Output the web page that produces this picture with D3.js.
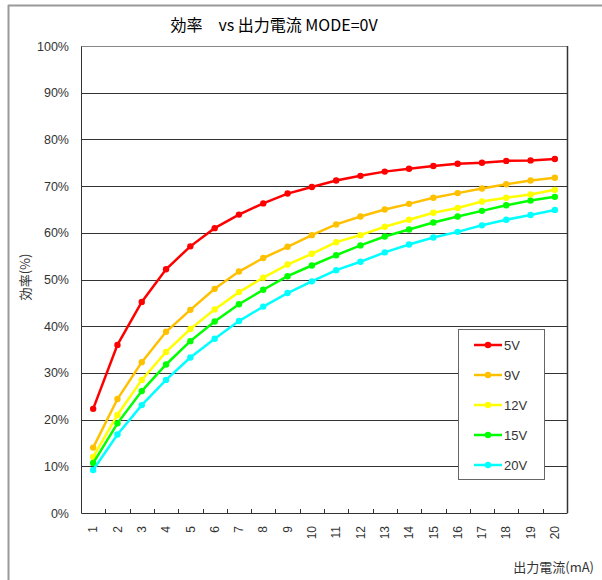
<!DOCTYPE html>
<html><head><meta charset="utf-8">
<script src="https://cdn.jsdelivr.net/npm/d3@7"></script>
<style>body{margin:0;background:#fff}svg{display:block}</style>
</head><body>
<svg id="c" width="602" height="580"></svg>
<script>
const categories = [1,2,3,4,5,6,7,8,9,10,11,12,13,14,15,16,17,18,19,20];
const yTicks = [0,10,20,30,40,50,60,70,80,90,100];
const seriesNames = ["5V","9V","12V","15V","20V"];
const seriesColors = ["#ff0000","#ffc000","#ffff00","#00ff00","#00ffff"];
const v5  = [22.3,36.0,45.2,52.2,57.1,61.0,63.9,66.3,68.4,69.8,71.2,72.2,73.1,73.7,74.3,74.8,75.0,75.4,75.5,75.8];
const v9  = [14.0,24.4,32.3,38.8,43.5,48.0,51.7,54.6,57.0,59.5,61.8,63.5,65.0,66.2,67.5,68.5,69.5,70.4,71.2,71.8];
const v12 = [12.0,21.0,28.5,34.5,39.4,43.6,47.3,50.4,53.2,55.5,58.0,59.5,61.3,62.8,64.3,65.3,66.7,67.5,68.2,69.2];
const v15 = [10.7,19.2,26.1,31.8,36.8,41.0,44.7,47.8,50.7,53.0,55.2,57.3,59.2,60.7,62.2,63.5,64.7,65.9,66.9,67.7];
const v20 = [9.2,16.8,23.1,28.5,33.3,37.3,41.1,44.2,47.1,49.6,52.0,53.8,55.8,57.5,59.0,60.2,61.6,62.8,63.8,64.9];
const seriesValues = [v5,v9,v12,v15,v20];

const svg = d3.select("#c");
const L=81, R=567, T=46, B=513;
const x = d3.scaleBand().domain(categories).range([L,R]);
const y = d3.scaleLinear().domain([0,100]).range([B,T]);
const font = "'Liberation Sans', Arial, sans-serif";
const jfont = "'Noto Sans CJK JP', sans-serif";

// outer frame
svg.append("line").attr("x1",8).attr("x2",602).attr("y1",5.5).attr("y2",5.5).attr("stroke","#999").attr("stroke-width",2);
svg.append("line").attr("x1",8.5).attr("x2",8.5).attr("y1",5).attr("y2",580).attr("stroke","#999").attr("stroke-width",2);

// title
svg.append("text").attr("x",274).attr("y",31).attr("text-anchor","middle")
  .attr("font-family",jfont).attr("font-size",16).attr("fill","#000")
  .text("効率　vs 出力電流 MODE=0V");

// grid
svg.append("g").selectAll("line").data(yTicks.slice(1)).join("line")
  .attr("x1",L).attr("x2",R).attr("y1",d=>Math.round(y(d))+0.5).attr("y2",d=>Math.round(y(d))+0.5)
  .attr("stroke",d=>d===100?"#888":"#333").attr("stroke-width",1);

// axes
const yAxis = d3.axisLeft(y).tickValues(yTicks).tickSize(0).tickPadding(12).tickFormat(d=>d+"%");
const gy = svg.append("g").attr("transform",`translate(${L},0)`).call(yAxis);
gy.select(".domain").attr("stroke","#333");
gy.selectAll("text").attr("font-family",font).attr("font-size",12.5).attr("fill","#333");

const xAxis = d3.axisBottom(x).tickSize(0).tickPadding(0);
const gx = svg.append("g").attr("transform",`translate(0,${B})`).call(xAxis);
gx.select(".domain").attr("stroke","#333");
gx.selectAll("text").attr("font-family",font).attr("font-size",12).attr("fill","#333")
  .attr("transform","rotate(-90)").attr("text-anchor","end").attr("dy","0.35em").attr("x",-13).attr("y",0);
// inward ticks at category boundaries
gx.append("g").selectAll("line").data(categories.slice(1)).join("line")
  .attr("x1",d=>Math.round(x(d))+0.5).attr("x2",d=>Math.round(x(d))+0.5).attr("y1",0).attr("y2",-4).attr("stroke","#333");

// right border
svg.append("line").attr("x1",R+0.5).attr("x2",R+0.5).attr("y1",T).attr("y2",B).attr("stroke","#333").attr("stroke-width",1.5);

// axis titles
svg.append("text").attr("transform",`translate(30,277) rotate(-90)`).attr("text-anchor","middle")
  .attr("font-family",jfont).attr("font-size",13).attr("fill","#333").text("効率(%)");
svg.append("text").attr("x",594).attr("y",572).attr("text-anchor","end")
  .attr("font-family",jfont).attr("font-size",13).attr("fill","#333").text("出力電流(mA)");

// series
const line = d3.line().x((d,i)=>x(categories[i])+x.bandwidth()/2).y(d=>y(d));
seriesValues.forEach((vals,si)=>{
  const g = svg.append("g");
  g.append("path").attr("d",line(vals)).attr("fill","none").attr("stroke",seriesColors[si]).attr("stroke-width",2.5);
  g.selectAll("circle").data(vals).join("circle")
    .attr("cx",(d,i)=>x(categories[i])+x.bandwidth()/2).attr("cy",d=>y(d)).attr("r",3.2).attr("fill",seriesColors[si]);
});

// legend
const lg = svg.append("g");
lg.append("rect").attr("x",458.5).attr("y",329.5).attr("width",86).attr("height",150).attr("fill","#fff").attr("stroke","#666");
seriesNames.forEach((n,i)=>{
  const yy = 345 + i*30;
  lg.append("line").attr("x1",474).attr("x2",502).attr("y1",yy).attr("y2",yy).attr("stroke",seriesColors[i]).attr("stroke-width",2.5);
  lg.append("circle").attr("cx",488).attr("cy",yy).attr("r",3.2).attr("fill",seriesColors[i]);
  lg.append("text").attr("x",504).attr("y",yy).attr("dy","0.36em").attr("font-family",font).attr("font-size",13).attr("fill","#333").text(n);
});
</script>
</body></html>
